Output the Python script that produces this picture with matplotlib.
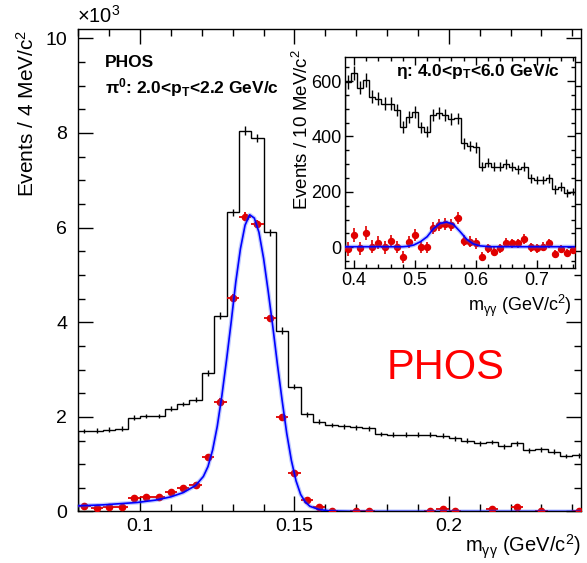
import matplotlib
matplotlib.use('Agg')
import numpy as np
import matplotlib.pyplot as plt
from matplotlib.ticker import MultipleLocator

plt.rcParams['font.family'] = ['Liberation Sans', 'DejaVu Sans']
plt.rcParams['mathtext.fontset'] = 'custom'
plt.rcParams['mathtext.rm'] = 'Liberation Sans'
plt.rcParams['mathtext.it'] = 'Liberation Sans:italic'
plt.rcParams['mathtext.bf'] = 'Liberation Sans:bold'

# ---- pi0 (main panel), counts in units of 10^3, 4 MeV bins starting at 0.080
pi0_lo = 0.080
pi0_bw = 0.004
pi0_all = [1.70, 1.71, 1.73, 1.75, 1.98, 2.02, 2.02, 2.17, 2.27, 2.36,
           2.93, 4.14, 6.32, 8.05, 7.89, 5.90, 3.82, 2.64, 2.05, 1.90,
           1.83, 1.80, 1.78, 1.76, 1.64, 1.62, 1.62, 1.62, 1.62, 1.60,
           1.55, 1.50, 1.44, 1.47, 1.38, 1.44, 1.29, 1.31, 1.26, 1.17,
           1.19]
pi0_all_err = [0.05, 0.05, 0.05, 0.05, 0.05, 0.05, 0.05, 0.05, 0.05, 0.05,
               0.06, 0.07, 0.08, 0.09, 0.09, 0.08, 0.07, 0.06, 0.05, 0.05,
               0.05, 0.05, 0.05, 0.05, 0.05, 0.05, 0.05, 0.05, 0.05, 0.05,
               0.05, 0.05, 0.05, 0.05, 0.05, 0.05, 0.05, 0.05, 0.05, 0.05,
               0.05]

# signal (background subtracted), only the points visible above 0
pi0_sig_x = [0.082, 0.086, 0.090, 0.094, 0.098, 0.102, 0.106, 0.110, 0.114, 0.118,
             0.122, 0.126, 0.130, 0.134, 0.138, 0.142, 0.146, 0.150, 0.154, 0.158,
             0.162, 0.170, 0.174, 0.194, 0.198, 0.202, 0.214, 0.222, 0.230, 0.242]
pi0_sig_y = [0.12, 0.08, 0.10, 0.10, 0.29, 0.30, 0.30, 0.42, 0.50, 0.57,
             1.15, 2.32, 4.52, 6.23, 6.08, 4.08, 1.99, 0.81, 0.24, 0.09,
             0.02, 0.02, 0.01, 0.02, 0.05, 0.02, 0.05, 0.10, 0.02, 0.01]
pi0_sig_err = [0.05, 0.05, 0.05, 0.05, 0.05, 0.05, 0.05, 0.05, 0.05, 0.05,
               0.06, 0.07, 0.08, 0.09, 0.09, 0.08, 0.07, 0.06, 0.05, 0.05,
               0.04, 0.04, 0.04, 0.04, 0.04, 0.04, 0.04, 0.04, 0.04, 0.04]

# fit curve
pi0_fit_x = [0.080, 0.088, 0.099, 0.105, 0.110, 0.114, 0.118, 0.1205, 0.122, 0.1235,
             0.125, 0.1265, 0.128, 0.1295, 0.131, 0.1325, 0.134, 0.1355, 0.137, 0.1385,
             0.140, 0.1415, 0.143, 0.1445, 0.146, 0.1475, 0.149, 0.1505, 0.152, 0.1535,
             0.155, 0.158, 0.162, 0.170, 0.244]
pi0_fit_y = [0.12, 0.14, 0.19, 0.24, 0.31, 0.40, 0.55, 0.74, 0.95, 1.30,
             1.80, 2.45, 3.20, 4.00, 4.85, 5.55, 6.05, 6.27, 6.20, 5.90,
             5.35, 4.65, 3.90, 3.10, 2.35, 1.65, 1.08, 0.65, 0.36, 0.20,
             0.11, 0.04, 0.01, 0.0, 0.0]

# ---- eta (inset), 10 MeV bins starting at 0.385
eta_lo = 0.385
eta_bw = 0.01
eta_all = [597, 628, 576, 604, 543, 537, 519, 519, 495, 435,
           469, 489, 433, 417, 477, 486, 477, 462, 465, 375,
           366, 361, 291, 305, 291, 291, 301, 291, 281, 291,
           249, 243, 243, 249, 209, 219, 197, 201]
eta_all_err = [25, 25, 24, 25, 23, 23, 23, 23, 22, 21,
               22, 22, 21, 20, 22, 22, 22, 21, 21, 19,
               19, 19, 17, 17, 17, 17, 17, 17, 17, 17,
               16, 16, 16, 16, 15, 15, 14, 14]
eta_sig = [-7, 44, -4, 53, 2, 17, 0, 23, 2, -34,
           18, 44, 2, 0, 69, 81, 83, 81, 105, 24,
           20, 14, -34, -4, -16, -4, 17, 14, 14, 30,
           0, -4, 2, 14, -24, -7, -19, -10]
eta_sig_err = [25, 25, 24, 25, 23, 23, 23, 23, 22, 21,
               22, 22, 21, 20, 22, 22, 22, 21, 21, 19,
               19, 19, 17, 17, 17, 17, 17, 17, 17, 17,
               16, 16, 16, 16, 15, 15, 14, 14]
eta_fit_x = [0.385, 0.480, 0.490, 0.498, 0.509, 0.520, 0.530, 0.541, 0.552, 0.563,
             0.574, 0.585, 0.596, 0.607, 0.624, 0.765]
eta_fit_y = [2, 2, 4, 8, 20, 38, 66, 86, 91, 83,
             57, 29, 12, 5, 2, 2]

red = '#e00000'

fig = plt.figure(figsize=(5.87, 5.63), dpi=100)
ax = fig.add_axes([0.1334, 0.0915, 0.8564, 0.8565])

edges = pi0_lo + pi0_bw * np.arange(len(pi0_all) + 1)
centers = edges[:-1] + pi0_bw / 2
ax.stairs(pi0_all, edges, color='black', lw=1.0)
ax.errorbar(centers, pi0_all, yerr=pi0_all_err, fmt='none', ecolor='black',
            elinewidth=1.0, capsize=0)
ax.errorbar(pi0_sig_x, pi0_sig_y, xerr=pi0_bw / 2, yerr=pi0_sig_err, fmt='o',
            color=red, ms=4.5, elinewidth=1.3, capsize=0, zorder=3)
ax.plot(pi0_fit_x, pi0_fit_y, color='#3050ff', lw=3, alpha=0.3, zorder=4)
ax.plot(pi0_fit_x, pi0_fit_y, color='blue', lw=1.2, zorder=4)

ax.set_xlim(0.08, 0.2428)
ax.set_ylim(0, 10.19)
ax.xaxis.set_major_locator(MultipleLocator(0.05))
ax.xaxis.set_minor_locator(MultipleLocator(0.01))
ax.yaxis.set_major_locator(MultipleLocator(2))
ax.yaxis.set_minor_locator(MultipleLocator(0.5))
ax.set_xticks([0.1, 0.15, 0.2])
ax.set_xticklabels(['0.1', '0.15', '0.2'])
ax.tick_params(which='both', direction='in', top=True, right=True, width=1)
ax.tick_params(which='major', length=10.8, labelsize=14)
ax.tick_params(axis='x', which='major', pad=4.7)
ax.tick_params(axis='y', which='major', pad=8)
ax.tick_params(which='minor', length=5)
for s in ax.spines.values():
    s.set_linewidth(1)

ax.text(-0.103, 1.0, 'Events / 4 MeV/c$^{2}$', transform=ax.transAxes,
        rotation=90, ha='center', va='top', fontsize=15)
ax.text(1.0, -0.074, r'm$_{\mathrm{γγ}}$ (GeV/c$^{2}$)', transform=ax.transAxes,
        ha='right', va='center', fontsize=14.5)
ax.text(-0.003, 1.005, '×10$^{3}$', transform=ax.transAxes, ha='left',
        va='bottom', fontsize=14.5)
ax.text(0.053, 0.931, 'PHOS', transform=ax.transAxes, ha='left', va='center',
        fontsize=12.5, fontweight='bold')
ax.text(0.053, 0.880, r'π$^{\mathbf{0}}$: 2.0<p$_{\mathbf{T}}$<2.2 GeV/c',
        transform=ax.transAxes, ha='left', va='center', fontsize=12.5,
        fontweight='bold')
ax.text(0.731, 0.297, 'PHOS', transform=ax.transAxes, ha='center', va='center',
        fontsize=30, color='red')

# ---- inset
ins = fig.add_axes([0.5877, 0.5234, 0.3918, 0.3759])
e_edges = eta_lo + eta_bw * np.arange(len(eta_all) + 1)
e_centers = e_edges[:-1] + eta_bw / 2
ins.stairs(eta_all, e_edges, color='black', lw=1.0)
ins.errorbar(e_centers, eta_all, yerr=eta_all_err, fmt='none', ecolor='black',
             elinewidth=1.0, capsize=0)
ins.errorbar(e_centers, eta_sig, xerr=eta_bw / 2, yerr=eta_sig_err, fmt='o',
             color=red, ms=4.3, elinewidth=1.2, capsize=0, zorder=3)
ins.plot(eta_fit_x, eta_fit_y, color='#3050ff', lw=3, alpha=0.3, zorder=4)
ins.plot(eta_fit_x, eta_fit_y, color='blue', lw=1.2, zorder=4)

ins.set_xlim(0.385, 0.763)
ins.set_ylim(-76, 688)
ins.xaxis.set_major_locator(MultipleLocator(0.1))
ins.xaxis.set_minor_locator(MultipleLocator(0.02))
ins.yaxis.set_major_locator(MultipleLocator(200))
ins.yaxis.set_minor_locator(MultipleLocator(50))
ins.tick_params(which='both', direction='in', top=True, right=True, width=1)
ins.tick_params(which='major', length=5.8, labelsize=13)
ins.tick_params(which='minor', length=3)
ins.tick_params(axis='x', which='major', pad=3.0)
ins.tick_params(axis='y', which='major', pad=2.4)
for s in ins.spines.values():
    s.set_linewidth(1)

ins.text(-0.188, 1.035, 'Events / 10 MeV/c$^{2}$', transform=ins.transAxes,
         rotation=90, ha='center', va='top', fontsize=13.5)
ins.text(0.987, -0.175, r'm$_{\mathrm{γγ}}$ (GeV/c$^{2}$)', transform=ins.transAxes,
         ha='right', va='center', fontsize=13)
ins.text(0.935, 0.929, r'η: 4.0<p$_{\mathbf{T}}$<6.0 GeV/c', transform=ins.transAxes,
         ha='right', va='center', fontsize=12.5, fontweight='bold')

fig.savefig('out.png', dpi=100)
